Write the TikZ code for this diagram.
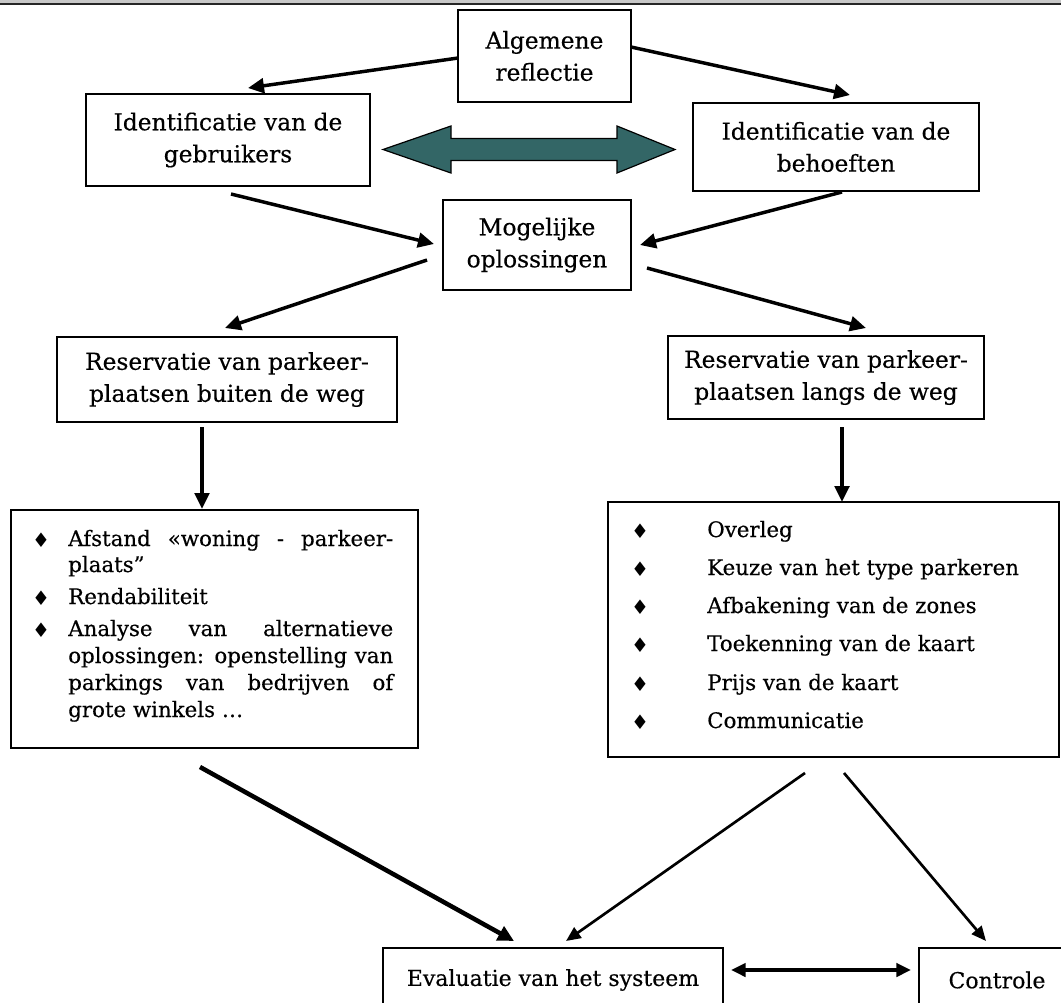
\documentclass[tikz,border=0pt]{standalone}
\usepackage{fontspec}
\setmainfont[FakeBold=0.4]{DejaVu Serif}
\newfontfamily\symfont{DejaVu Sans}
\usetikzlibrary{arrows.meta}
\definecolor{tealfill}{RGB}{51,102,102}
\definecolor{topgray}{RGB}{200,200,200}
\tikzset{
  box/.style={draw, line width=1.4pt, inner sep=0pt, align=center,
    font=\fontsize{17.5}{24}\selectfont},
  listbox/.style={draw, line width=1.4pt, inner sep=0pt},
  endbox/.style={draw, line width=1.4pt, inner sep=0pt, align=center,
    font=\fontsize{16.5}{20}\selectfont},
  conn/.style={line width=2.6pt, -{Triangle[length=12pt,width=11pt]}},
  thinconn/.style={line width=2pt, -{Triangle[length=11pt,width=9.5pt]}},
  thickconn/.style={line width=3.4pt, -{Triangle[length=12pt,width=11.5pt]}},
  dblconn/.style={line width=2.6pt, {Triangle[length=11pt,width=10pt]}-{Triangle[length=11pt,width=10pt]}},
  itemtxt/.style={anchor=base west, inner sep=0pt, font=\fontsize{16}{19}\selectfont},
  bulletmark/.style={anchor=base, inner sep=0pt, font=\symfont\fontsize{15}{15}\selectfont},
}
\begin{document}
\begin{tikzpicture}[x=0.75pt,y=-0.75pt]
\useasboundingbox (0,0) rectangle (1061,1003);
\clip (0,0) rectangle (1061,1003);
% top bar
\fill[topgray] (0,0) rectangle (1061,3.4);
\fill[black!85] (0,3.4) rectangle (1061,5.2);

% boxes
\node[box, minimum width=129.75pt, minimum height=69pt] (alg) at (544.5,56) {Algemene\\reflectie};
\node[box, minimum width=213pt, minimum height=69pt] (geb) at (228,140) {Identificatie van de\\gebruikers};
\node[box, minimum width=214.5pt, minimum height=66pt] (beh) at (836,147) {Identificatie van de\\behoeften};
\node[box, minimum width=141pt, minimum height=67.5pt] (mog) at (537,245) {Mogelijke\\oplossingen};
\node[box, minimum width=255pt, minimum height=63.75pt] (resb) at (227,379.5) {Reservatie van parkeer-\\plaatsen buiten de weg};
\node[box, minimum width=237pt, minimum height=62.25pt] (resl) at (826,377.5) {Reservatie van parkeer-\\plaatsen langs de weg};
\node[listbox, minimum width=305.25pt, minimum height=178.5pt] (listL) at (214.5,629) {};
\node[listbox, minimum width=338.25pt, minimum height=191.25pt] (listR) at (833.5,629.5) {};
\node[endbox, minimum width=255pt, minimum height=48pt] (eval) at (553,980) {Evaluatie van het systeem};
\node[endbox, minimum width=117pt, minimum height=48pt] (ctrl) at (997,980) {Controle};

% left list
\node[bulletmark] (lb1) at (41,547) {♦};
\node[itemtxt] (lt1) at (68,546) {\makebox[243.75pt][s]{Afstand «woning - parkeer-}};
\node[itemtxt] (lt2) at (68,572) {plaats”};
\node[bulletmark] (lb2) at (41,605) {♦};
\node[itemtxt] (lt3) at (68,604) {Rendabiliteit};
\node[bulletmark] (lb3) at (41,637) {♦};
\node[itemtxt] (lt4) at (68,636) {\makebox[243.75pt][s]{Analyse van alternatieve}};
\node[itemtxt] (lt5) at (68,663) {\makebox[243.75pt][s]{oplossingen: openstelling van}};
\node[itemtxt] (lt6) at (68,690) {\makebox[243.75pt][s]{parkings van bedrijven of}};
\node[itemtxt] (lt7) at (68,717) {grote winkels …};

% right list
\node[bulletmark] (rb1) at (640,538) {♦};
\node[itemtxt] (rt1) at (707,537) {Overleg};
\node[bulletmark] (rb2) at (640,576) {♦};
\node[itemtxt] (rt2) at (707,575) {Keuze van het type parkeren};
\node[bulletmark] (rb3) at (640,614) {♦};
\node[itemtxt] (rt3) at (707,613) {Afbakening van de zones};
\node[bulletmark] (rb4) at (640,652) {♦};
\node[itemtxt] (rt4) at (707,651) {Toekenning van de kaart};
\node[bulletmark] (rb5) at (640,691) {♦};
\node[itemtxt] (rt5) at (707,690) {Prijs van de kaart};
\node[bulletmark] (rb6) at (640,729) {♦};
\node[itemtxt] (rt6) at (707,728) {Communicatie};

% teal double arrow
\coordinate (bigL) at (383,149.5);
\coordinate (bigR) at (675,149.5);
\filldraw[fill=tealfill, draw=black, line width=0.9pt]
  (bigL) -- (451,126) -- (451,138.5) -- (617,138.5) -- (617,126) -- (bigR)
  -- (617,173) -- (617,160.5) -- (451,160.5) -- (451,173) -- cycle;

% connector end points
\coordinate (a1s) at (458,58);   \coordinate (a1e) at (248,88);
\coordinate (a2s) at (631,47);   \coordinate (a2e) at (850,95);
\coordinate (a3s) at (231,194);  \coordinate (a3e) at (434,244);
\coordinate (a4s) at (842,192);  \coordinate (a4e) at (640,245);
\coordinate (a5s) at (427,260);  \coordinate (a5e) at (225,328);
\coordinate (a6s) at (647,268);  \coordinate (a6e) at (866,328);
\coordinate (a7s) at (202,427);  \coordinate (a7e) at (202,509);
\coordinate (a8s) at (842,427);  \coordinate (a8e) at (842,502);
\coordinate (a9s) at (200,767);  \coordinate (a9e) at (514,941);
\coordinate (a10s) at (805,773); \coordinate (a10e) at (566,941);
\coordinate (a11s) at (844,773); \coordinate (a11e) at (986,941);
\coordinate (a12s) at (731,970); \coordinate (a12e) at (911,970);

\draw[conn] (a1s) -- (a1e);
\draw[conn] (a2s) -- (a2e);
\draw[conn] (a3s) -- (a3e);
\draw[conn] (a4s) -- (a4e);
\draw[conn] (a5s) -- (a5e);
\draw[conn] (a6s) -- (a6e);
\draw[conn] (a7s) -- (a7e);
\draw[conn] (a8s) -- (a8e);
\draw[thickconn] (a9s) -- (a9e);
\draw[thinconn] (a10s) -- (a10e);
\draw[thinconn] (a11s) -- (a11e);
\draw[dblconn] (a12s) -- (a12e);
\end{tikzpicture}
\end{document}
